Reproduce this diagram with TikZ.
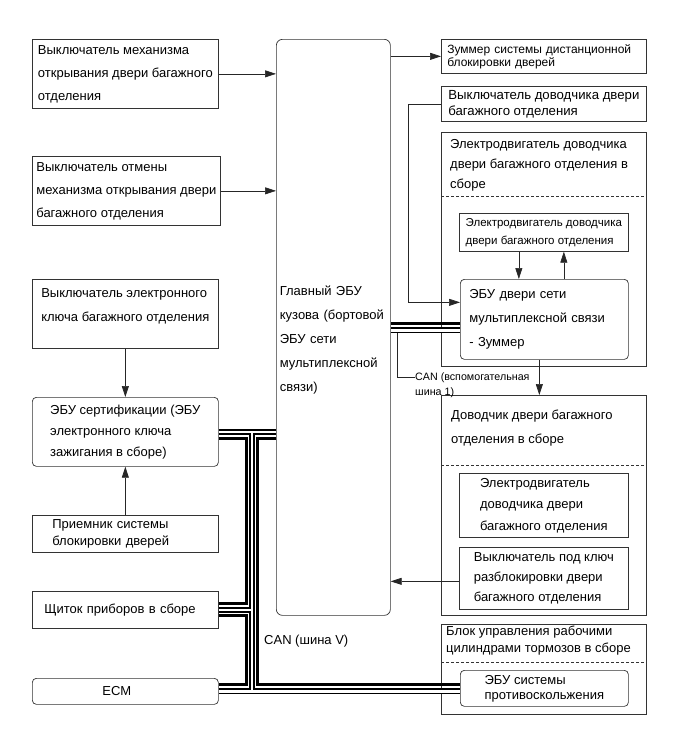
\documentclass[tikz,border=0pt]{standalone}
\usepackage{fontspec}
\setmainfont{Liberation Sans}
\usetikzlibrary{arrows.meta}
\newcommand{\fsz}[2]{\fontsize{#1}{#2}\selectfont}
\tikzset{
  box/.style={draw=black!80, line width=0.7pt, anchor=north west, align=left, inner ysep=0pt, inner xsep=4pt, font=\fsz{13}{23}},
  rbox/.style={box, rounded corners=4pt},
  asmFrame/.style={draw=black!80, line width=0.7pt, anchor=north west, inner sep=0pt},
  asmTitle/.style={anchor=north west, align=left, inner sep=0pt},
  dashSep/.style={draw=black!80, line width=0.7pt, dash pattern=on 3pt off 2pt},
  arr/.style={draw=black!85, line width=0.7pt, -{Triangle[length=11pt,width=7pt]}},
  canH/.style={line width=3.2pt},
  canL/.style={white, line width=2.6pt, preaction={draw=black, line width=5.8pt}},
}

\begin{document}
\begin{tikzpicture}[x=1pt,y=-1pt]
\path[use as bounding box, fill=white] (0,0) rectangle (689,756);
\node[box, minimum width=186pt, minimum height=69pt] (swOpen) at (32,39) {Выключатель механизма\\открывания двери багажного\\отделения};
\node[box, minimum width=186pt, minimum height=69pt] (swCancel) at (32,156) {Выключатель отмены\\механизма открывания двери\\багажного отделения};
\node[box, minimum width=186pt, minimum height=69pt, font=\fsz{13}{24}] (swEkey) at (32,279) {Выключатель электронного\\ключа багажного отделения\\[-6pt]\mbox{}};
\node[rbox, minimum width=186pt, minimum height=69pt, font=\fsz{13}{21}] (certEcu) at (32,397) {ЭБУ сертификации (ЭБУ\\электронного ключа\\зажигания в сборе)};
\node[box, minimum width=186pt, minimum height=37pt, inner xsep=20pt, text width=146pt, font=\fsz{13}{16.5}] (receiver) at (32,515) {Приемник системы\\блокировки дверей};
\node[box, minimum width=186pt, minimum height=37pt, inner xsep=12pt, text width=162pt] (cluster) at (32,591) {Щиток приборов в сборе};
\node[rbox, minimum width=186pt, minimum height=26pt, inner xsep=70pt, text width=46pt] (ecm) at (32,678) {ECM};
\node[rbox, rounded corners=6pt, minimum width=114pt, minimum height=576pt, inner xsep=3.5pt, text width=107pt, font=\fsz{13}{24}] (bcm) at (276,39) {\mbox{}\\[10pt]Главный ЭБУ\\кузова (бортовой\\ЭБУ сети\\мультиплексной\\связи)};

\node[box, minimum width=205pt, minimum height=34pt, inner xsep=6pt, text width=193pt, font=\fsz{12}{13}] (buzzer) at (441,39) {Зуммер системы дистанционной\\блокировки дверей};
\node[box, minimum width=205pt, minimum height=35pt, font=\fsz{13.2}{16}] (swCloser) at (441,86) {Выключатель доводчика двери\\багажного отделения};
\node[asmFrame, minimum width=205pt, minimum height=234pt] (closerAsm) at (441,132) {};
\node[asmTitle, font=\fsz{13}{20}] (closerTitle) at ([xshift=9pt,yshift=-7pt]closerAsm.north west) {Электродвигатель доводчика\\двери багажного отделения в\\сборе};
\draw[dashSep] ([yshift=-64pt]closerAsm.north west) -- ([yshift=-64pt]closerAsm.north east);
\node[box, minimum width=169pt, minimum height=38pt, font=\fsz{11.5}{18}] (motor) at (459,213) {Электродвигатель доводчика\\двери багажного отделения};
\node[rbox, minimum width=168pt, minimum height=80pt, inner xsep=9pt, text width=150pt, font=\fsz{13}{24}] (doorEcu) at (460,279) {ЭБУ двери сети\\мультиплексной связи\\- Зуммер};

\node[asmFrame, minimum width=205pt, minimum height=220pt] (closerAssy) at (441,395) {};
\node[asmTitle, font=\fsz{13}{24}] (closerAssyTitle) at ([xshift=10pt,yshift=-15pt]closerAssy.north west) {Доводчик двери багажного\\отделения в сборе};
\draw[dashSep] ([yshift=-70pt]closerAssy.north west) -- ([yshift=-70pt]closerAssy.north east);
\node[box, minimum width=169pt, minimum height=64pt, font=\fsz{13}{21.5}] (motorB) at (459,473) {Электродвигатель\\доводчика двери\\багажного отделения};
\node[box, minimum width=169pt, minimum height=62pt, font=\fsz{13}{20}] (swKey) at (459,547) {Выключатель под ключ\\разблокировки двери\\багажного отделения};

\node[asmFrame, minimum width=205pt, minimum height=90pt] (brakeAsm) at (441,624) {};
\node[asmTitle, font=\fsz{13}{17}] (brakeTitle) at ([xshift=5pt,yshift=-2pt]brakeAsm.north west) {Блок управления рабочими\\цилиндрами тормозов в сборе};
\draw[dashSep] ([yshift=-38pt]brakeAsm.north west) -- ([yshift=-38pt]brakeAsm.north east);
\node[rbox, minimum width=168pt, minimum height=36pt, font=\fsz{13}{15}] (absEcu) at (460,670) {ЭБУ системы\\противоскольжения};

\draw[arr] (swOpen.east) -- (swOpen.east -| bcm.west);
\draw[arr] (swCancel.east) -- (swCancel.east -| bcm.west);
\draw[arr] (bcm.east |- buzzer.west) -- (buzzer.west);
\draw[arr] (swCloser.west) -- ++(-33,0) |- ([yshift=17pt]doorEcu.west);
\draw[arr] ([xshift=-25pt]motor.south) -- ([xshift=-25pt]motor.south |- doorEcu.north);
\draw[arr] ([xshift=20pt]motor.south |- doorEcu.north) -- ([xshift=20pt]motor.south);
\draw[arr] ([xshift=-5pt]doorEcu.south) -- ([xshift=-5pt]doorEcu.south |- closerAssy.north);
\draw[arr] ([yshift=-3pt]swKey.west) -- ([yshift=-3pt]swKey.west -| bcm.east);
\draw[arr] (swEkey.south) -- (certEcu.north);
\draw[arr] (receiver.north) -- (certEcu.south);

\coordinate (trunkA) at (246.5,0);
\coordinate (trunkL) at (252,0);
\coordinate (trunkB) at (257.5,0);
\draw[canH] ([yshift=-7pt]certEcu.east) -| ([yshift=6pt]cluster.east -| trunkA) -- ([yshift=6pt]cluster.east);
\draw[canH] ([yshift=-6pt]cluster.east) -| ([yshift=7pt]ecm.east -| trunkA) -- ([yshift=7pt]ecm.east);
\draw[canH] ([yshift=-7pt]certEcu.east -| bcm.west) -| ([yshift=7pt]ecm.east -| trunkB) -- ([yshift=7pt]ecm.east -| absEcu.west);
\draw[canL] (certEcu.east) -- (certEcu.east -| bcm.west)
  (certEcu.east -| trunkL) -- (ecm.east -| trunkL)
  (cluster.east) -- (cluster.east -| trunkL)
  (ecm.east) -- (ecm.east -| absEcu.west);
\node[anchor=west, inner sep=0pt, font=\fsz{13}{15}] (canV) at (264,641) {CAN (шина V)};

\draw[canH] ([yshift=-4pt]doorEcu.west) -- ([yshift=-4pt]doorEcu.west -| bcm.east);
\draw[canL] ([yshift=-11pt]doorEcu.west) -- ([yshift=-11pt]doorEcu.west -| bcm.east);
\node[anchor=north west, align=left, inner sep=0pt, font=\fsz{10.7}{15}] (canSub) at (415,373) {CAN (вспомогательная\\шина 1)};
\draw[line width=0.6pt, black!85] ([xshift=7pt,yshift=-14pt]doorEcu.west -| bcm.east) |- ([yshift=-4pt]canSub.north west);
\end{tikzpicture}
\end{document}
